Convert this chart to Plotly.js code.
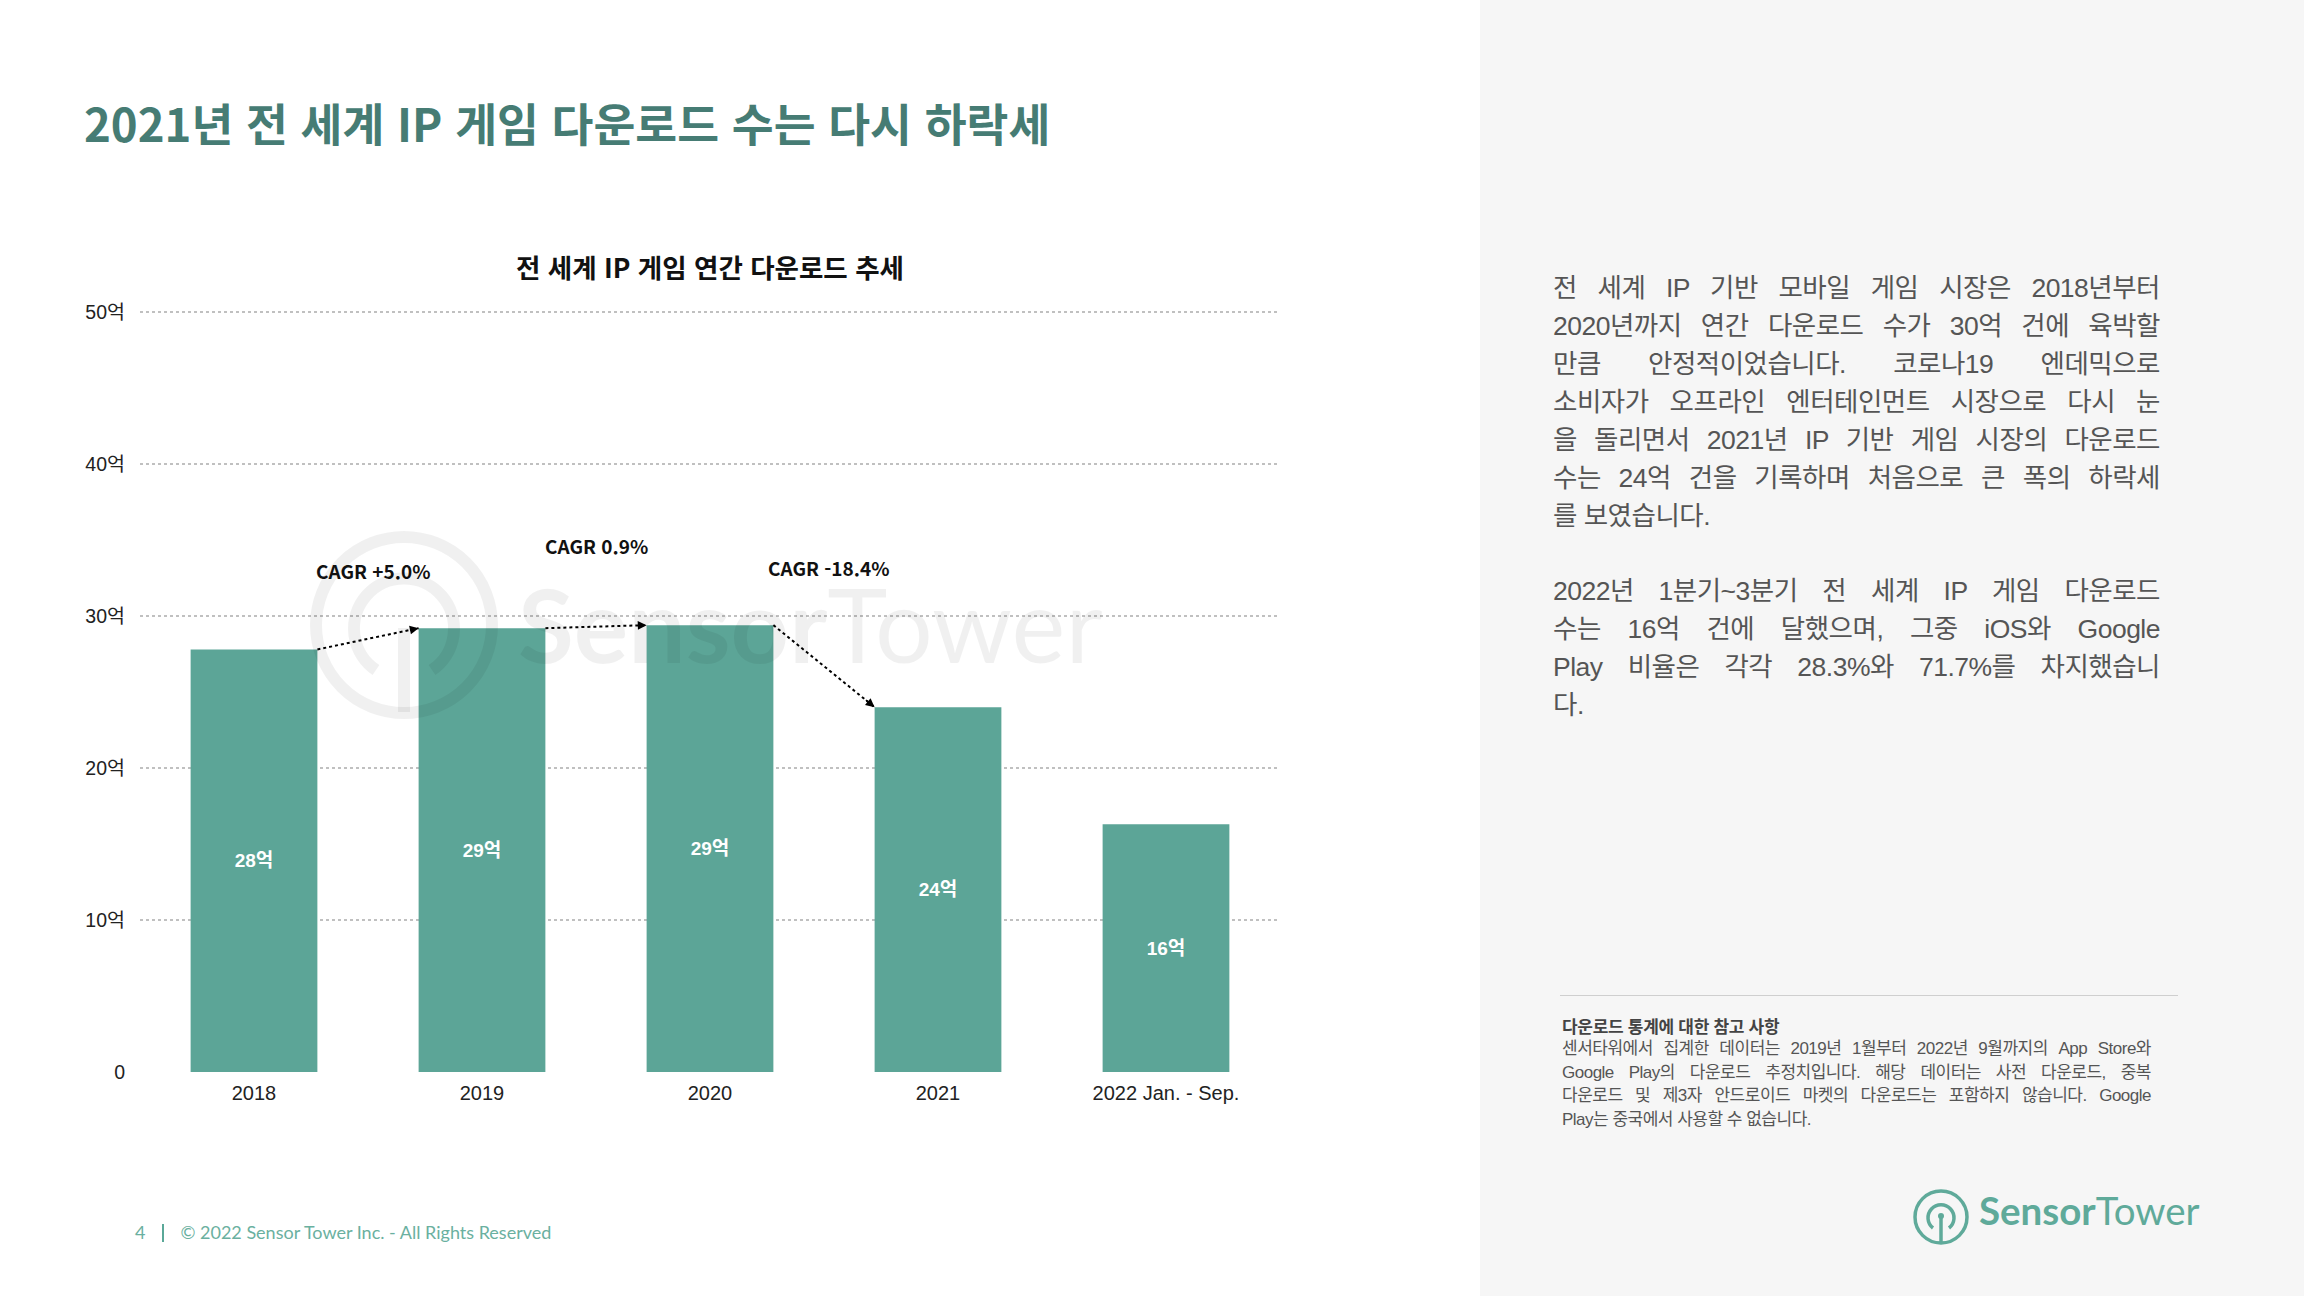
<!DOCTYPE html>
<html lang="ko">
<head>
<meta charset="utf-8">
<script src="https://cdn.plot.ly/plotly-3.0.1.min.js"></script>
<style>
  body { margin: 0; }
  #page { position: relative; width: 2304px; height: 1296px; background: #fff; overflow: hidden;
    font-family: 'Liberation Sans', 'Noto Sans CJK KR', sans-serif; }
  #chart { position: absolute; left: 0; top: 0; width: 1480px; height: 1296px; }
  #panel { position: absolute; left: 1480px; top: 0; width: 824px; height: 1296px; background: #f6f6f6; }
  #title { position: absolute; left: 84px; top: 94px; font: 700 45.5px/56px 'Noto Sans CJK KR', sans-serif;
    color: #467c74; white-space: nowrap; }
  .para { position: absolute; left: 1553px; width: 607px; font-size: 26.5px; line-height: 38px; color: #555;
    letter-spacing: -0.5px; }
  .para div, .notes div { text-align: justify; text-align-last: justify; text-justify: inter-word; }
  .para div.l, .notes div.l { text-align-last: left; }
  #rule { position: absolute; left: 1560px; top: 995px; width: 618px; height: 1px; background: #cfcfcf; }
  #notesHead { position: absolute; left: 1562px; top: 1014px; font: 700 17px/24px 'Noto Sans CJK KR', sans-serif; color: #444;
    letter-spacing: -0.3px; }
  .notes { position: absolute; left: 1562px; top: 1037px; width: 589px; font-size: 17px; line-height: 23.5px; color: #555;
    letter-spacing: -0.5px; }
  #footer { position: absolute; left: 135px; top: 1220px; font: 18px/24px Lato, sans-serif; color: #6ab0a0; white-space: nowrap; }
  #footer .bar { display: inline-block; width: 2px; height: 18px; background: #5aa898; margin: 0 16px 0 17px; vertical-align: -3px; }
  #logo { position: absolute; left: 1911px; top: 1187px; }
  #logoText { position: absolute; left: 1979px; top: 1191px; font: 38.5px/38px Lato, sans-serif; color: #5faa9a; white-space: nowrap; }
  #watermark { position: absolute; left: 0; top: 0; pointer-events: none; }
</style>
</head>
<body>
<div id="page">
  <div id="panel"></div>
  <div id="chart"></div>
  <svg id="watermark" width="1480" height="1296">
    <g fill="none" stroke="rgba(0,0,0,0.06)" stroke-width="12">
      <circle cx="404" cy="625" r="88"></circle>
      <path d="M376 670 A50 50 0 1 1 432 670"></path>
      <line x1="404" y1="628" x2="404" y2="712"></line>
    </g>
    <text x="518" y="663" font-family="Lato" font-size="102" fill="rgba(0,0,0,0.06)"><tspan font-weight="700">Sensor</tspan><tspan font-weight="400">Tower</tspan></text>
  </svg>
  <div id="title">2021년 전 세계 IP 게임 다운로드 수는 다시 하락세</div>

  <div class="para" style="top:269px">
    <div>전 세계 IP 기반 모바일 게임 시장은 2018년부터</div>
    <div>2020년까지 연간 다운로드 수가 30억 건에 육박할</div>
    <div>만큼 안정적이었습니다. 코로나19 엔데믹으로</div>
    <div>소비자가 오프라인 엔터테인먼트 시장으로 다시 눈</div>
    <div>을 돌리면서 2021년 IP 기반 게임 시장의 다운로드</div>
    <div>수는 24억 건을 기록하며 처음으로 큰 폭의 하락세</div>
    <div class="l">를 보였습니다.</div>
  </div>
  <div class="para" style="top:572px">
    <div>2022년 1분기~3분기 전 세계 IP 게임 다운로드</div>
    <div>수는 16억 건에 달했으며, 그중 iOS와 Google</div>
    <div>Play 비율은 각각 28.3%와 71.7%를 차지했습니</div>
    <div class="l">다.</div>
  </div>

  <div id="rule"></div>
  <div id="notesHead">다운로드 통계에 대한 참고 사항</div>
  <div class="notes">
    <div>센서타워에서 집계한 데이터는 2019년 1월부터 2022년 9월까지의 App Store와</div>
    <div>Google Play의 다운로드 추정치입니다. 해당 데이터는 사전 다운로드, 중복</div>
    <div>다운로드 및 제3자 안드로이드 마켓의 다운로드는 포함하지 않습니다. Google</div>
    <div class="l">Play는 중국에서 사용할 수 없습니다.</div>
  </div>

  <div id="footer">4<span class="bar"></span>© 2022 Sensor Tower Inc. - All Rights Reserved</div>

  <svg id="logo" width="60" height="60">
    <g fill="none" stroke="#5faa9a" stroke-width="3.5">
      <circle cx="30" cy="30" r="26"></circle>
      <path d="M22 41 A13 13 0 1 1 38 41"></path>
      <line x1="30" y1="31" x2="30" y2="55"></line>
    </g>
    <circle cx="30" cy="29" r="3" fill="#5faa9a"></circle>
  </svg>
  <div id="logoText"><b>Sensor</b>Tower</div>
</div>

<script>
const years = ['2018', '2019', '2020', '2021', '2022 Jan. - Sep.']
const downloads = [27.8, 29.2, 29.4, 24.0, 16.3]
const cagrLabels = ['CAGR +5.0%', 'CAGR 0.9%', 'CAGR -18.4%']
const yTicks = [0, 10, 20, 30, 40, 50]
const yTickText = ['0', '10억', '20억', '30억', '40억', '50억']

const barWidth = 0.556
const xPos = years.map((_, i) => i)
const krFont = "'Noto Sans CJK KR', sans-serif"
const tickFont = "'Liberation Sans', 'Noto Sans CJK KR', sans-serif"

const bars = {
  x: xPos,
  y: downloads,
  type: 'bar',
  width: barWidth,
  marker: {color: '#5ca597'},
  texttemplate: '%{y:.0f}억',
  textposition: 'inside',
  insidetextanchor: 'middle',
  textangle: 0,
  constraintext: 'none',
  textfont: {family: tickFont, size: 19, color: '#fff', weight: 700},
  hoverinfo: 'skip',
  showlegend: false
}

// dotted connectors from one bar top to the next
const links = cagrLabels.map((label, i) => ({
  x: [i + barWidth / 2, i + 1 - barWidth / 2],
  y: [downloads[i], downloads[i + 1]],
  type: 'scatter',
  mode: 'lines',
  line: {color: '#000', width: 2, dash: 'dot'},
  cliponaxis: false,
  hoverinfo: 'skip',
  showlegend: false
}))

// arrow heads at the end of each connector
const heads = links.map(t => {
  const [x0, x1] = t.x
  const [y0, y1] = t.y
  return {
    x: x1, y: y1, ax: x1 - 0.1 * (x1 - x0), ay: y1 - 0.1 * (y1 - y0),
    xref: 'x', yref: 'y', axref: 'x', ayref: 'y',
    text: '', showarrow: true, arrowhead: 2, arrowsize: 1.1, arrowwidth: 1.6,
    arrowcolor: '#000', standoff: 0
  }
})

const labelShift = [58, 80, 58]
const labelNudge = [5, 0, 5]
const cagrNotes = cagrLabels.map((label, i) => ({
  text: label,
  x: i + 0.5,
  y: Math.max(downloads[i], downloads[i + 1]),
  xref: 'x',
  yref: 'y',
  yshift: labelShift[i],
  xshift: labelNudge[i],
  showarrow: false,
  font: {family: krFont, size: 19, weight: 700, color: '#111'}
}))

const layout = {
  width: 1480,
  height: 1296,
  margin: {l: 140, r: 200, t: 309, b: 224},
  paper_bgcolor: 'rgba(0,0,0,0)',
  plot_bgcolor: 'rgba(0,0,0,0)',
  title: {
    text: '전 세계 IP 게임 연간 다운로드 추세',
    font: {family: krFont, size: 26.5, weight: 700, color: '#111'},
    x: 0.5,
    xref: 'paper',
    y: 1 - 269 / 1296,
    yref: 'container',
    yanchor: 'middle'
  },
  xaxis: {
    range: [-0.5, 4.5],
    tickvals: xPos,
    ticktext: years,
    showgrid: false,
    zeroline: false,
    showline: false,
    ticks: '',
    ticklabelstandoff: 7,
    tickfont: {family: tickFont, size: 20, color: '#222'}
  },
  yaxis: {
    range: [0, 50.2],
    tickvals: yTicks,
    ticktext: yTickText,
    showgrid: true,
    gridcolor: '#c0c0c0',
    griddash: 'dot',
    gridwidth: 2,
    zeroline: true,
    zerolinecolor: 'rgba(0,0,0,0)',
    showline: false,
    ticks: '',
    ticklabelstandoff: 14,
    tickfont: {family: tickFont, size: 19.5, color: '#222'}
  },
  annotations: [...cagrNotes, ...heads],
  hovermode: false
}

Plotly.newPlot(document.getElementById('chart'), [bars, ...links], layout, {displayModeBar: false, staticPlot: true})
</script>
</body>
</html>
